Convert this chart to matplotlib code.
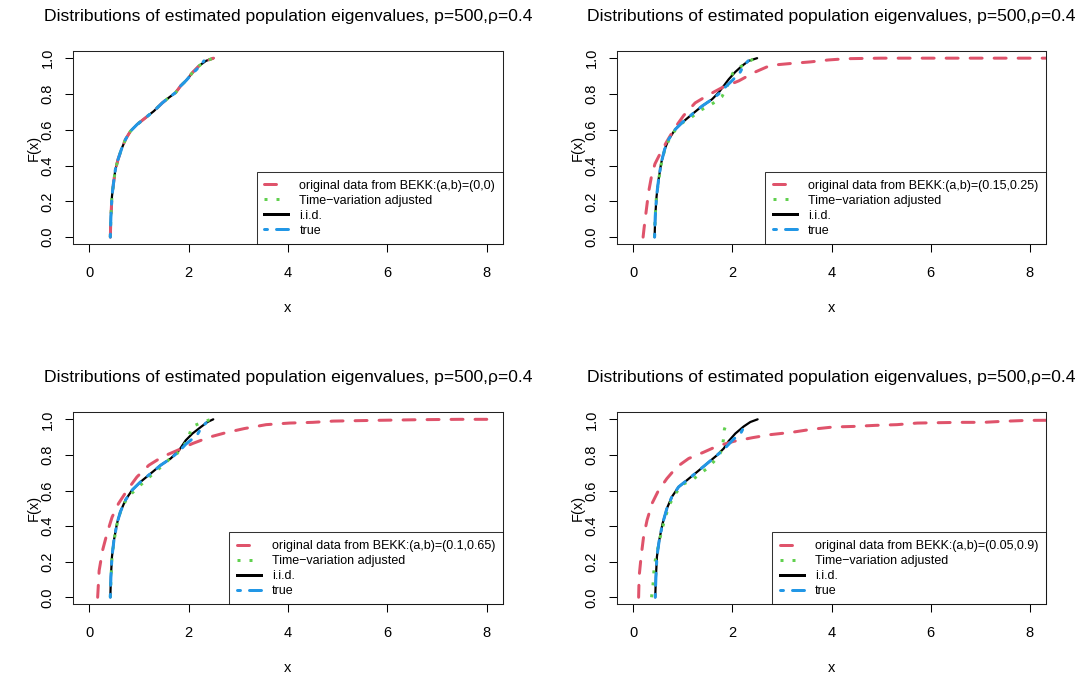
import matplotlib
matplotlib.use("Agg")
import matplotlib.pyplot as plt
from matplotlib.lines import Line2D

plt.rcParams['font.family'] = ['Liberation Sans', 'DejaVu Sans']

TITLE = "Distributions of estimated population eigenvalues, p=500,\u03c1=0.4"
legend_labels = ["original data from BEKK:(a,b)=(0,0)",
                 "original data from BEKK:(a,b)=(0.15,0.25)",
                 "original data from BEKK:(a,b)=(0.1,0.65)",
                 "original data from BEKK:(a,b)=(0.05,0.9)"]
series_names = ["Time\u2212variation adjusted", "i.i.d.", "true"]
xticks = [0, 2, 4, 6, 8]
yticks = [0.0, 0.2, 0.4, 0.6, 0.8, 1.0]
ytick_labels = ["0.0", "0.2", "0.4", "0.6", "0.8", "1.0"]

# ---- Panel 1: (a,b)=(0,0) ----
p1_iid_x = [0.425, 0.437, 0.458, 0.49, 0.526, 0.58, 0.647, 0.73, 0.83, 0.965, 1.133, 1.30, 1.47, 1.605, 1.74, 1.84, 1.943, 2.08, 2.21, 2.35, 2.50]
p1_iid_y = [0.0, 0.116, 0.228, 0.303, 0.377, 0.434, 0.49, 0.546, 0.592, 0.63, 0.667, 0.704, 0.75, 0.78, 0.808, 0.845, 0.873, 0.92, 0.957, 0.985, 1.0]
p1_orig_x = [0.425, 0.437, 0.458, 0.49, 0.526, 0.58, 0.647, 0.73, 0.83, 0.965, 1.133, 1.30, 1.47, 1.605, 1.74, 1.84, 1.943, 2.08, 2.21, 2.35, 2.50]
p1_orig_y = [0.0, 0.116, 0.228, 0.303, 0.377, 0.434, 0.49, 0.546, 0.592, 0.63, 0.667, 0.704, 0.75, 0.78, 0.808, 0.845, 0.873, 0.92, 0.957, 0.985, 1.0]
p1_adj_x = [0.425, 0.437, 0.458, 0.49, 0.526, 0.58, 0.647, 0.73, 0.83, 0.965, 1.133, 1.30, 1.47, 1.605, 1.74, 1.84, 1.943, 2.08, 2.21, 2.35, 2.50]
p1_adj_y = [0.0, 0.116, 0.228, 0.303, 0.377, 0.434, 0.49, 0.546, 0.592, 0.63, 0.667, 0.704, 0.75, 0.78, 0.808, 0.845, 0.873, 0.92, 0.957, 0.985, 1.0]
p1_true_x = [0.425, 0.437, 0.458, 0.49, 0.526, 0.58, 0.647, 0.73, 0.83, 0.965, 1.133, 1.30, 1.47, 1.605, 1.74, 1.84, 1.943, 2.08, 2.21, 2.31]
p1_true_y = [0.0, 0.116, 0.228, 0.303, 0.377, 0.434, 0.49, 0.546, 0.592, 0.63, 0.667, 0.704, 0.75, 0.78, 0.808, 0.845, 0.873, 0.915, 0.95, 0.985]

# ---- Panel 2: (a,b)=(0.15,0.25) ----
p2_iid_x = [0.432, 0.445, 0.472, 0.512, 0.566, 0.634, 0.715, 0.848, 0.984, 1.186, 1.388, 1.59, 1.725, 1.826, 1.927, 2.06, 2.196, 2.33, 2.50]
p2_iid_y = [0.0, 0.116, 0.228, 0.321, 0.415, 0.49, 0.546, 0.602, 0.639, 0.686, 0.732, 0.77, 0.808, 0.845, 0.882, 0.923, 0.957, 0.985, 1.0]
p2_orig_x = [0.20, 0.22, 0.26, 0.31, 0.37, 0.44, 0.55, 0.67, 0.84, 1.02, 1.25, 1.52, 1.79, 2.13, 2.44, 2.77, 3.17, 3.57, 3.94, 4.30, 5.0, 8.6]
p2_orig_y = [0.0, 0.05, 0.14, 0.25, 0.34, 0.41, 0.47, 0.53, 0.61, 0.68, 0.75, 0.795, 0.835, 0.873, 0.92, 0.96, 0.97, 0.979, 0.99, 0.997, 1.0, 1.0]
p2_adj_x = [0.43, 0.445, 0.47, 0.52, 0.58, 0.65, 0.75, 0.88, 1.0, 1.2, 1.35, 1.52, 1.65, 1.79, 1.87, 1.95, 2.01, 2.14, 2.30, 2.45]
p2_adj_y = [0.0, 0.12, 0.23, 0.33, 0.43, 0.50, 0.56, 0.61, 0.64, 0.675, 0.708, 0.732, 0.755, 0.785, 0.826, 0.88, 0.916, 0.948, 0.975, 1.0]
p2_true_x = [0.432, 0.445, 0.472, 0.512, 0.566, 0.634, 0.715, 0.848, 0.984, 1.186, 1.388, 1.59, 1.725, 1.826, 1.99, 2.155, 2.22, 2.32]
p2_true_y = [0.0, 0.116, 0.228, 0.321, 0.415, 0.49, 0.546, 0.602, 0.639, 0.686, 0.732, 0.77, 0.80, 0.83, 0.873, 0.92, 0.955, 0.985]

# ---- Panel 3: (a,b)=(0.1,0.65) ----
p3_iid_x = [0.425, 0.437, 0.458, 0.498, 0.559, 0.627, 0.729, 0.862, 1.03, 1.235, 1.437, 1.64, 1.808, 1.943, 2.077, 2.247, 2.38, 2.496]
p3_iid_y = [0.0, 0.116, 0.228, 0.321, 0.415, 0.48, 0.546, 0.602, 0.648, 0.695, 0.742, 0.78, 0.826, 0.882, 0.92, 0.957, 0.985, 1.0]
p3_orig_x = [0.17, 0.20, 0.27, 0.36, 0.46, 0.59, 0.76, 0.96, 1.20, 1.47, 1.81, 2.08, 2.42, 2.75, 3.12, 3.56, 4.03, 4.50, 4.91, 5.72, 6.67, 7.47, 8.0]
p3_orig_y = [0.0, 0.15, 0.265, 0.36, 0.45, 0.527, 0.60, 0.676, 0.742, 0.789, 0.83, 0.864, 0.90, 0.925, 0.948, 0.97, 0.979, 0.983, 0.99, 0.994, 0.998, 1.0, 1.0]
p3_adj_x = [0.425, 0.44, 0.46, 0.50, 0.56, 0.63, 0.73, 0.86, 1.03, 1.20, 1.34, 1.49, 1.64, 1.75, 1.84, 1.95, 2.01, 2.07, 2.25, 2.45]
p3_adj_y = [0.0, 0.12, 0.23, 0.32, 0.41, 0.48, 0.54, 0.585, 0.63, 0.672, 0.71, 0.74, 0.785, 0.80, 0.835, 0.87, 0.91, 0.96, 0.98, 1.0]
p3_true_x = [0.425, 0.437, 0.458, 0.498, 0.559, 0.627, 0.729, 0.862, 1.03, 1.235, 1.437, 1.64, 1.808, 1.943, 2.077, 2.18, 2.25, 2.35]
p3_true_y = [0.0, 0.116, 0.228, 0.321, 0.415, 0.48, 0.546, 0.602, 0.648, 0.695, 0.742, 0.78, 0.82, 0.86, 0.89, 0.916, 0.95, 0.98]

# ---- Panel 4: (a,b)=(0.05,0.9) ----
p4_iid_x = [0.445, 0.459, 0.479, 0.526, 0.594, 0.68, 0.78, 0.916, 1.085, 1.287, 1.489, 1.69, 1.826, 1.927, 2.06, 2.23, 2.364, 2.51]
p4_iid_y = [0.0, 0.116, 0.228, 0.321, 0.415, 0.499, 0.564, 0.62, 0.658, 0.704, 0.751, 0.798, 0.836, 0.878, 0.92, 0.96, 0.985, 1.0]
p4_orig_x = [0.11, 0.12, 0.16, 0.21, 0.28, 0.38, 0.51, 0.68, 0.88, 1.12, 1.42, 1.70, 2.04, 2.41, 2.77, 3.20, 3.60, 4.04, 4.44, 4.88, 5.32, 5.73, 6.16, 6.60, 7.07, 7.47, 7.95, 8.6]
p4_orig_y = [0.0, 0.116, 0.228, 0.34, 0.433, 0.527, 0.60, 0.667, 0.732, 0.78, 0.815, 0.85, 0.877, 0.897, 0.914, 0.927, 0.944, 0.957, 0.96, 0.966, 0.97, 0.979, 0.981, 0.983, 0.983, 0.989, 0.994, 0.995]
p4_adj_x = [0.37, 0.40, 0.424, 0.46, 0.50, 0.58, 0.65, 0.73, 0.86, 1.0, 1.19, 1.35, 1.49, 1.60, 1.72, 1.79, 1.82, 1.84, 1.86]
p4_adj_y = [0.0, 0.07, 0.17, 0.23, 0.28, 0.38, 0.45, 0.52, 0.585, 0.635, 0.658, 0.695, 0.723, 0.755, 0.789, 0.83, 0.886, 0.944, 0.96]
p4_true_x = [0.445, 0.459, 0.479, 0.526, 0.594, 0.68, 0.78, 0.916, 1.085, 1.287, 1.489, 1.69, 1.826, 1.927, 2.03, 2.16, 2.22, 2.30]
p4_true_y = [0.0, 0.116, 0.228, 0.321, 0.415, 0.499, 0.564, 0.62, 0.658, 0.704, 0.751, 0.798, 0.83, 0.86, 0.89, 0.916, 0.95, 0.976]

panels = [
    (p1_orig_x, p1_orig_y, p1_adj_x, p1_adj_y, p1_iid_x, p1_iid_y, p1_true_x, p1_true_y),
    (p2_orig_x, p2_orig_y, p2_adj_x, p2_adj_y, p2_iid_x, p2_iid_y, p2_true_x, p2_true_y),
    (p3_orig_x, p3_orig_y, p3_adj_x, p3_adj_y, p3_iid_x, p3_iid_y, p3_true_x, p3_true_y),
    (p4_orig_x, p4_orig_y, p4_adj_x, p4_adj_y, p4_iid_x, p4_iid_y, p4_true_x, p4_true_y),
]

RED = "#DF536B"
GREEN = "#61D04F"
BLUE = "#2297E6"
LW = 2.16

W, H = 1087, 675
fig = plt.figure(figsize=(W / 100, H / 100), dpi=100)

# axes boxes in pixels (left, top, right, bottom)
boxes = [(73.3, 51.0, 502.7, 244.3), (617.3, 51.0, 1045.7, 244.3),
         (73.3, 412.2, 502.7, 604.4), (617.3, 412.2, 1045.7, 604.4)]

red_style = dict(color=RED, lw=LW, dashes=(4, 4), dash_capstyle='round')
green_style = dict(color=GREEN, lw=LW, dashes=(1, 3), dash_capstyle='butt')
black_style = dict(color='black', lw=1.6, solid_capstyle='round')
blue_style = dict(color=BLUE, lw=LW, dashes=(1, 3, 4, 3), dash_capstyle='round')

for i, (box, data) in enumerate(zip(boxes, panels)):
    l, t, r, b = box
    ax = fig.add_axes([l / W, 1 - b / H, (r - l) / W, (b - t) / H])
    ox, oy, ax_, ay, ix, iy, tx, ty = data
    ax.plot(ix, iy, **black_style)
    ax.plot(ox, oy, **red_style)
    ax.plot(ax_, ay, **green_style)
    ax.plot(tx, ty, **blue_style)
    ax.set_xlim(-0.32, 8.32)
    ax.set_ylim(-0.04, 1.04)
    ax.set_xticks(xticks)
    ax.set_xticklabels([str(v) for v in xticks])
    ax.set_yticks(yticks)
    ax.set_yticklabels(ytick_labels, rotation=90, va='center')
    ax.tick_params(direction='out', length=6, width=0.75, labelsize=10.5, colors='black')
    ax.tick_params(axis='x', pad=9.5)
    ax.tick_params(axis='y', pad=7.5)
    for s in ax.spines.values():
        s.set_linewidth(0.75)
        s.set_color('#222222')
    ax.set_title(TITLE, fontsize=12.6, pad=21.5)
    ax.set_xlabel("x", fontsize=10.5)
    ax.xaxis.label.set_va('baseline')
    ax.xaxis.set_label_coords(0.5, -(312 - 244.3) / 193.3)
    ax.set_ylabel("F(x)", fontsize=10.5)
    ax.yaxis.set_label_coords(-(73.3 - 41) / 429.4, 0.5)

    handles = [Line2D([], [], **red_style),
               Line2D([], [], **green_style),
               Line2D([], [], color='black', lw=LW),
               Line2D([], [], **blue_style)]
    leg = ax.legend(handles, [legend_labels[i]] + series_names, loc='lower right',
                    fontsize=9, frameon=True, fancybox=False, borderaxespad=0,
                    borderpad=0.6, labelspacing=0.24, handlelength=1.9,
                    handletextpad=0.9)
    leg.get_frame().set_edgecolor('black')
    leg.get_frame().set_linewidth(0.75)

fig.savefig("out.png", dpi=100)
